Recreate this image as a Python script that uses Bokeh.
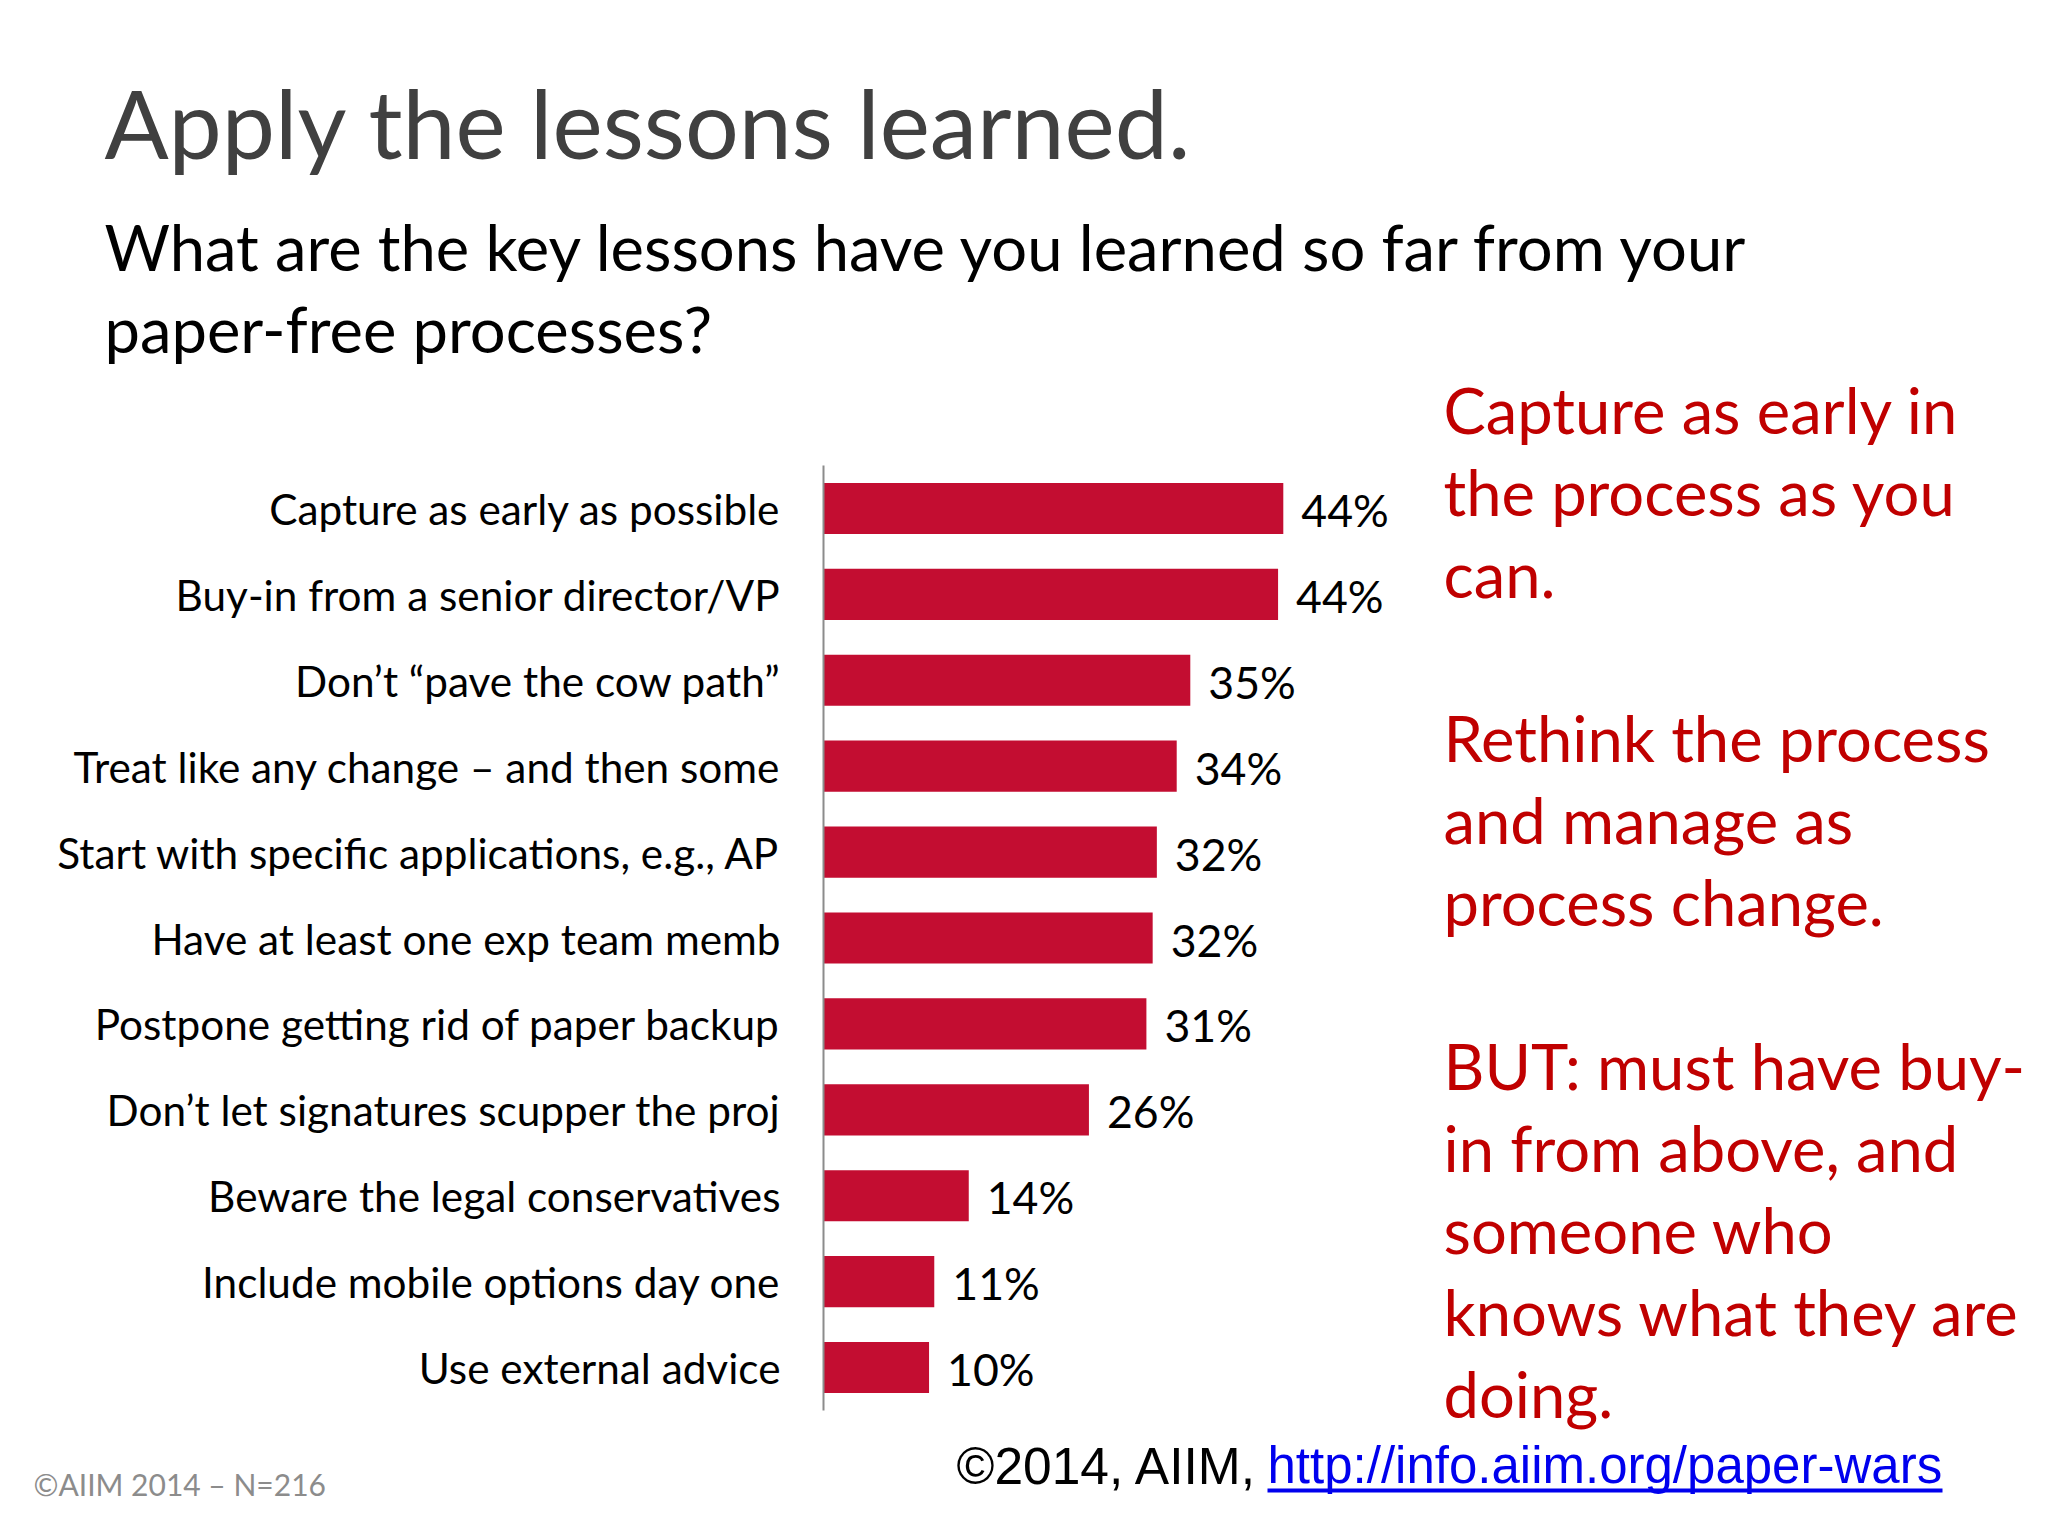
from bokeh.plotting import figure
from bokeh.layouts import column, row
from bokeh.models import ColumnDataSource, FactorRange, Range1d, Label, BoxAnnotation
from bokeh.core.properties import value
from bokeh.embed import file_html
from bokeh.resources import INLINE

categories = [
    "Capture as early as possible",
    "Buy-in from a senior director/VP",
    "Don’t “pave the cow path”",
    "Treat like any change – and then some",
    "Start with specific applications, e.g., AP",
    "Have at least one exp team memb",
    "Postpone getting rid of paper backup",
    "Don’t let signatures scupper the proj",
    "Beware the legal conservatives",
    "Include mobile options day one",
    "Use external advice",
]
values = [44.0, 43.5, 35.1, 33.8, 31.9, 31.5, 30.9, 25.4, 13.9, 10.6, 10.1]
value_labels = ["44%", "44%", "35%", "34%", "32%", "32%", "31%", "26%", "14%", "11%", "10%"]

title_text = "Apply the lessons learned."
question_lines = ["What are the key lessons have you learned so far from your", "paper-free processes?"]
note_lines = [
    "Capture as early in", "the process as you", "can.", "",
    "Rethink the process", "and manage as", "process change.", "",
    "BUT: must have buy-", "in from above, and", "someone who", "knows what they are", "doing.",
]
footer_text = "©2014, AIIM,"
link_text = "http://info.aiim.org/paper-wars"
source_text = "©AIIM 2014 – N=216"

FONT = "Lato"
W, H = 2048, 1536
TOP, SPLIT_X, SPLIT_Y = 371, 1440, 1436

source = ColumnDataSource(dict(cat=categories, val=values, lab=value_labels))

chart = figure(
    width=SPLIT_X, height=SPLIT_Y - TOP, output_backend="svg", toolbar_location=None,
    y_range=FactorRange(factors=categories[::-1]),
    x_range=Range1d(0, (SPLIT_X - 823) / 10.45), frame_align=False,
    min_border_left=823, min_border_right=0, min_border_top=465 - TOP, min_border_bottom=SPLIT_Y - 1410,
    outline_line_color=None, background_fill_color="white", border_fill_color="white",
)
chart.grid.visible = False
chart.xaxis.visible = False
ax = chart.yaxis[0]
ax.axis_line_color = "#8c8c8c"
ax.axis_line_width = 2
ax.major_tick_line_color = None
ax.minor_tick_line_color = None
ax.major_tick_out = 0
ax.major_tick_in = 0
ax.major_label_standoff = 43
ax.major_label_text_font = FONT
ax.major_label_text_font_size = "42.3px"
ax.major_label_text_color = "#000000"

chart.hbar(y="cat", right="val", left=0, height=0.595, source=source, color="#c30d31", line_color=None)
chart.text(x="val", y="cat", text="lab", source=source, x_offset=18, y_offset=1,
           text_font=value(FONT), text_font_size=value("44.6px"), text_color="#000000",
           text_baseline="middle", text_align="left")


def panel(x0, y0, w, h):
    f = figure(width=w, height=h, output_backend="svg", toolbar_location=None,
               x_range=Range1d(x0, x0 + w), y_range=Range1d(y0 + h, y0), frame_align=False,
               x_axis_location=None, y_axis_location=None, min_border=0,
               outline_line_color=None, background_fill_color="white", border_fill_color="white")
    f.grid.visible = False
    return f


def put(f, x, baseline, text, size, color, font=FONT):
    f.add_layout(Label(x=x, y=baseline, text=text, text_font=font, text_font_size=size,
                       text_color=color, text_baseline="alphabetic", text_align="left"))


header = panel(0, 0, W, TOP)
put(header, 104, 121, title_text, "95px", "#404040")
for i, line in enumerate(question_lines):
    put(header, 104, 246 + i * 82, line, "63.3px", "#000000")

notes = panel(SPLIT_X, TOP, W - SPLIT_X, SPLIT_Y - TOP)
for i, line in enumerate(note_lines):
    if line:
        put(notes, 1443, 409 + i * 82, line, "63.3px", "#c00000")

footer = panel(0, SPLIT_Y, W, H - SPLIT_Y)
put(footer, 956, 1465, footer_text, "51.5px", "#000000", "Liberation Sans")
put(footer, 1267, 1465, link_text, "51px", "#0000ee", "Liberation Sans")
put(footer, 33, 1483, source_text, "30px", "#8c8c8c")
footer.add_layout(BoxAnnotation(left=1267, right=1942, top=1488, bottom=1492,
                                fill_color="#0000ee", fill_alpha=1, line_color=None))

page = column(header, row(chart, notes, spacing=0), footer, spacing=0)
out = file_html(page, INLINE)
open("out.html", "w").write(out)
